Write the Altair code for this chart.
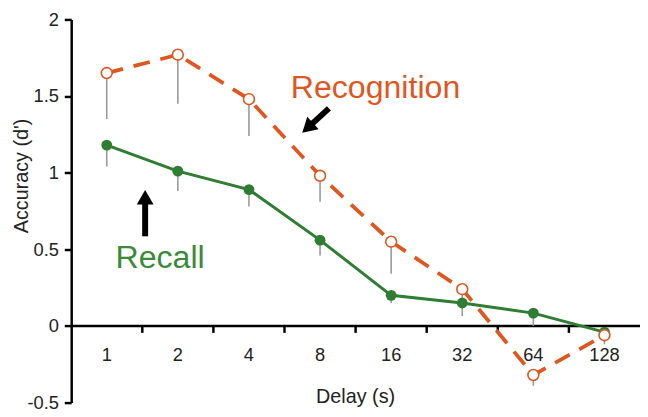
import altair as alt
import pandas as pd
import math

# ---- data ----
delays = ["1", "2", "4", "8", "16", "32", "64", "128"]
recall = [1.18, 1.01, 0.89, 0.56, 0.20, 0.15, 0.084, -0.04]
recall_lo = [1.04, 0.88, 0.78, 0.46, 0.15, 0.065, 0.0, -0.06]
recog = [1.65, 1.77, 1.48, 0.98, 0.55, 0.24, -0.32, -0.06]
recog_lo = [1.35, 1.45, 1.24, 0.81, 0.34, 0.16, -0.39, -0.12]
y_ticks = [-0.5, 0, 0.5, 1, 1.5, 2]

# ---- layout ----
W, H = 576, 388
XDOM = [-0.5, 7.5]
YDOM = [-0.5, 2.0]
PX_X = W / (XDOM[1] - XDOM[0])
PX_Y = H / (YDOM[1] - YDOM[0])
ORANGE = "#E0561F"
GREEN = "#2E7D32"
FONT = "Liberation Sans"

idx = list(range(len(delays)))
df = pd.DataFrame({"i": idx, "delay": delays, "recall": recall, "recall_lo": recall_lo,
                   "recog": recog, "recog_lo": recog_lo})

xs = alt.Scale(domain=XDOM, nice=False, zero=False)
ys = alt.Scale(domain=YDOM, nice=False, zero=False)

yaxis = alt.Axis(values=y_ticks, labelExpr="toString(datum.value)", grid=False,
                 domainColor="black", domainWidth=2.5, tickColor="black", tickWidth=2.5,
                 tickSize=7, labelFont=FONT, labelFontSize=18.5, labelColor="#222",
                 labelPadding=6, title="Accuracy (d')", titleFont=FONT, titleFontSize=20,
                 titleFontWeight="normal", titleColor="#222", titleX=-50, titleY=158,
                 titleAngle=-90, titleAlign="center", titleBaseline="middle")

base = alt.Chart(df)

# x-axis drawn at y = 0
xline_df = pd.DataFrame({"x": [XDOM[0]], "x2": [XDOM[1]], "y": [0.0]})
xline = alt.Chart(xline_df).mark_rule(color="black", strokeWidth=2.5).encode(
    x=alt.X("x:Q", scale=xs, axis=None), x2="x2:Q",
    y=alt.Y("y:Q", scale=ys, axis=yaxis))

tick_df = pd.DataFrame({"x": [i + 0.5 for i in idx[:-1]]})
tick_df["y"] = 0.0
tick_df["y2"] = -7 / PX_Y
xticks = alt.Chart(tick_df).mark_rule(color="black", strokeWidth=2.5).encode(
    x=alt.X("x:Q", scale=xs, axis=None), y=alt.Y("y:Q", scale=ys), y2="y2:Q")

xlabels = base.transform_calculate(ly=str(-29 / PX_Y)).mark_text(
    font=FONT, fontSize=18.5, color="#222", baseline="middle", align="center").encode(
    x=alt.X("i:Q", scale=xs, axis=None), y=alt.Y("ly:Q", scale=ys), text="delay:N")

xtitle_df = pd.DataFrame({"x": [3.5], "y": [-72 / PX_Y], "t": ["Delay (s)"]})
xtitle = alt.Chart(xtitle_df).mark_text(font=FONT, fontSize=20, color="#222",
                                        baseline="middle", align="center").encode(
    x=alt.X("x:Q", scale=xs, axis=None), y=alt.Y("y:Q", scale=ys), text="t:N")

# error bars
err_recall = base.mark_rule(color="#999999", strokeWidth=1.6).encode(
    x=alt.X("i:Q", scale=xs, axis=None), y=alt.Y("recall:Q", scale=ys), y2="recall_lo:Q")
err_recog = base.mark_rule(color="#999999", strokeWidth=1.6).encode(
    x=alt.X("i:Q", scale=xs, axis=None), y=alt.Y("recog:Q", scale=ys), y2="recog_lo:Q")

# series
line_recall = base.mark_line(color=GREEN, strokeWidth=3).encode(
    x=alt.X("i:Q", scale=xs, axis=None), y=alt.Y("recall:Q", scale=ys))
pts_recall = base.mark_circle(color=GREEN, size=121, opacity=1).encode(
    x=alt.X("i:Q", scale=xs, axis=None), y=alt.Y("recall:Q", scale=ys))
line_recog = base.mark_line(color=ORANGE, strokeWidth=3.8, strokeDash=[17, 11]).encode(
    x=alt.X("i:Q", scale=xs, axis=None), y=alt.Y("recog:Q", scale=ys))
pts_recog = base.mark_point(shape="circle", filled=True, fill="white", stroke=ORANGE,
                            strokeWidth=1.6, size=121, opacity=1).encode(
    x=alt.X("i:Q", scale=xs, axis=None), y=alt.Y("recog:Q", scale=ys))

# annotations
labels_df = pd.DataFrame({"x": [3.78, 0.75], "y": [1.486, 0.38],
                          "t": ["Recognition", "Recall"], "c": [ORANGE, "#3A8A3A"]})
ann_text = alt.Chart(labels_df).mark_text(font=FONT, fontSize=32.5, align="center",
                                          baseline="alphabetic").encode(
    x=alt.X("x:Q", scale=xs, axis=None), y=alt.Y("y:Q", scale=ys), text="t:N",
    color=alt.Color("c:N", scale=None))

HEAD = 289
h_half = math.sqrt(3) / 2 * math.sqrt(HEAD) / 2
arrows = [((3.125, 1.42), (2.75, 1.26)), ((0.54, 0.585), (0.54, 0.887))]
arrow_layers = []
for (tx, ty), (hx, hy) in arrows:
    dxp = (hx - tx) * PX_X
    dyp = -(hy - ty) * PX_Y
    L = math.hypot(dxp, dyp)
    ux, uy = dxp / L, dyp / L
    cx = hx - ux * h_half / PX_X
    cy = hy + uy * h_half / PX_Y
    ang = math.degrees(math.atan2(ux, -uy)) % 360
    shaft_df = pd.DataFrame({"x": [tx], "y": [ty], "x2": [cx], "y2": [cy]})
    head_df = pd.DataFrame({"x": [cx], "y": [cy], "a": [ang]})
    arrow_layers.append(alt.Chart(shaft_df).mark_rule(color="black", strokeWidth=6,
                                                      strokeCap="butt").encode(
        x=alt.X("x:Q", scale=xs, axis=None), y=alt.Y("y:Q", scale=ys), x2="x2:Q", y2="y2:Q"))
    arrow_layers.append(alt.Chart(head_df).mark_point(shape="triangle-up", filled=True,
                                                      color="black", size=HEAD, opacity=1).encode(
        x=alt.X("x:Q", scale=xs, axis=None), y=alt.Y("y:Q", scale=ys),
        angle=alt.Angle("a:Q", scale=None)))

chart = alt.layer(xline, xticks, xlabels, xtitle, err_recall, err_recog,
                  line_recall, pts_recall, line_recog, pts_recog, ann_text, *arrow_layers).properties(
    width=W, height=H,
    autosize=alt.AutoSizeParams(type="none"),
    padding={"left": 64, "top": 9, "right": 0, "bottom": 12},
    background="white",
).configure_view(stroke=None)

chart.save("out.html", embed_options={"renderer": "svg", "actions": False})
